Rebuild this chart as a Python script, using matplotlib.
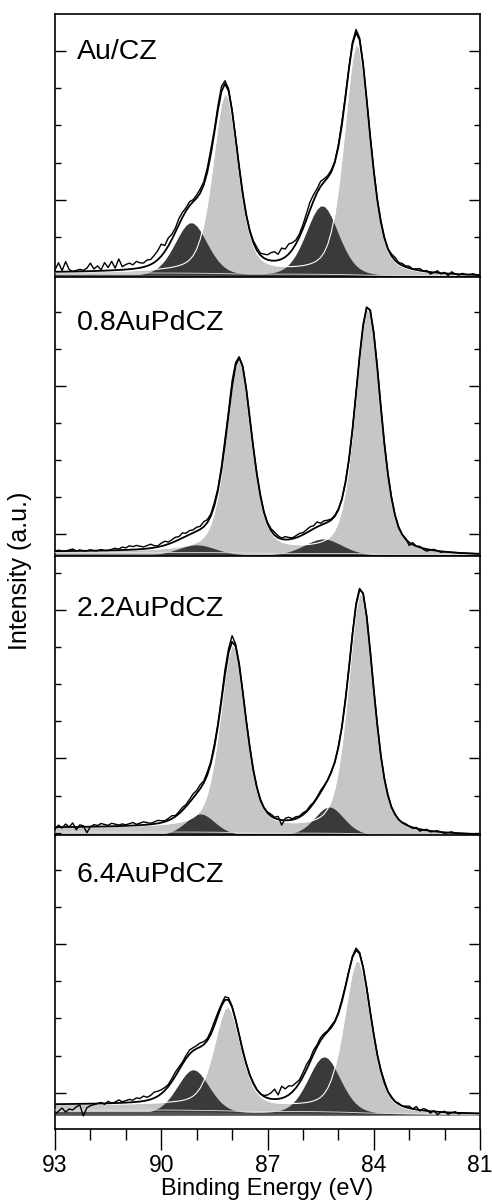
import numpy as np
import matplotlib
matplotlib.use('Agg')
import matplotlib.pyplot as plt
from matplotlib.ticker import FixedLocator

plt.rcParams['font.family'] = ['Liberation Sans', 'DejaVu Sans']

# Binding energy grid (eV), 93 -> 81 in 0.1 eV steps
be = np.round(np.arange(930, 809, -1) / 10.0, 1)

labels = ['Au/CZ', '0.8AuPdCZ', '2.2AuPdCZ', '6.4AuPdCZ']

# Fitted components (intensity in arbitrary units)
# Au0 doublet: 4f7/2 position, 4f5/2 position, heights, FWHM
au0_pos = [(84.47, 88.18), (84.16, 87.80), (84.36, 87.97), (84.45, 88.12)]
au0_height = [(232, 180), (246, 192), (240, 184), (152, 100)]
au0_fwhm = [0.85, 0.85, 0.85, 0.9]
# Au(delta+) doublet
aup_pos = [(85.46, 89.16), (85.43, 89.00), (85.26, 88.90), (85.40, 89.10)]
aup_height = [(71, 54), (17, 11), (29, 22), (58, 45)]
aup_fwhm = [1.1, 1.3, 1.0, 1.1]
# Shirley background level at 93 eV, and height of the dark baseline band
bg_high = [4, 4, 8, 10]
band_high = [2.5, 2.0, 2.5, 3.5]

# Measured spectra = fit envelope + residuals (93.0 -> 81.0 eV)
resid_1 = [2, 9, 1, 10, 2, 0, 1, 2, 1, 3,
           8, 2, 5, 1, 8, 3, 9, 2, 11, 3,
           5, 6, 4, 7, 5, 4, 6, 5, 7, 9,
           12, 6, 8, 5, 4, 6, 5, 3, 4, 2,
           3, 4, 3, 4, 5, 3, 4, 5, 3, 2,
           1, 0, 0, -1, 0, 1, 2, 3, 2, 4,
           5, 8, 9, 6, 11, 8, 10, 7, 4, 3,
           4, 6, 8, 6, 4, 5, 3, 2, 2, 1,
           2, 3, 2, 1, 2, 3, 2, 1, 0, 1,
           2, 1, 2, 1, 0, 2, 3, 1, 2, 1,
           2, 0, 1, 2, 0, 1, -2, 0, 2, -1,
           1, -2, 2, 0, -1, 1, 0, 0, 1, 0,
           0]
resid_2 = [0, 1, 0, 0, 1, 2, 0, 1, 0, 0,
           1, 0, 0, 1, 0, 0, 1, 2, 1, 3,
           2, 4, 3, 4, 3, 2, 3, 4, 2, 1,
           3, 4, 2, 3, 4, 3, 5, 3, 4, 3,
           4, 3, 5, 3, 2, 3, 2, 3, 5, 4,
           6, 3, 1, 0, 0, -1, 0, 0, 1, 0,
           1, 2, 3, 2, 1, 3, 2, 1, 2, 3,
           2, 3, 4, 3, 5, 2, 3, 2, 1, 1,
           1, 0, 1, 0, 0, 1, 0, -1, 0, 0,
           0, 1, 0, -1, 0, 1, 0, -1, 0, 1,
           -3, 2, 0, 1, -1, -2, 0, 1, 0, -1,
           0, 0, 0, 0, 0, 0, 0, 0, 0, 0,
           0]
resid_3 = [-2, 2, -1, 3, 0, 4, -3, 2, 1, -6,
           0, 2, 1, 3, 2, 1, 3, 2, 1, 2,
           1, 2, 3, 1, 2, 3, 2, 1, 2, 3,
           2, 1, 2, 3, 1, 2, 3, 2, 3, 4,
           3, 4, 2, 3, 2, 3, 2, 3, 5, 4,
           6, 2, 1, 0, 0, 1, 0, 0, -1, 0,
           1, 2, 1, 3, -5, 2, 3, 1, 2, 1,
           2, 1, 2, 1, 1, 2, 1, 0, 1, 0,
           1, 0, 1, 0, 1, 2, 1, 0, 0, 0,
           0, 1, 0, 0, 1, 0, 1, 0, 0, 1,
           0, -1, 1, -2, 0, 1, -1, 0, 1, 0,
           -1, 0, 1, 0, 0, 0, 0, 0, 0, 0,
           0]
resid_4 = [-10, -7, -4, -8, -5, -6, -3, -1, -12, -4,
           -2, -1, 0, 1, -1, 2, 0, 1, 3, 1,
           2, 3, 2, 4, 3, 5, 3, 4, 6, 5,
           4, 3, 2, 3, 4, 3, 2, 3, 4, 3,
           3, 4, 3, 2, 3, 4, 3, 2, 3, 2,
           1, 0, 0, -1, 0, 0, 1, 0, 0, 1,
           3, 6, 10, 4, 12, 8, 9, 6, 5, 3,
           4, 5, 3, 4, 2, 3, 2, 1, 2, 1,
           1, 2, 1, 0, 1, 2, 1, 0, 1, 0,
           1, 0, 1, 2, 0, 1, 0, 1, 0, 1,
           2, 0, 3, -1, 2, 1, -2, 1, -3, 0,
           1, -2, 0, 1, -1, 0, 0, 0, 0, 0,
           0]
residuals = [resid_1, resid_2, resid_3, resid_4]

# layout of the four stacked panels (pixel rows in the 492x1204 figure)
W, H = 492, 1204
panel_rows = [(14, 277), (277, 556), (556, 835), (835, 1129)]
baselines = [277, 556, 836, 1115]
tick_rows = [[51, 88, 125, 163, 200, 237],
             [312, 349, 386, 423, 460, 497, 534],
             [573, 610, 647, 684, 721, 758, 796, 833],
             [870, 907, 944, 981, 1018, 1056, 1093]]
major_rows = [[51, 200], [386, 534], [610, 758], [944, 1093]]
label_rows = [52, 323, 609, 875]

LIGHT = '#c6c6c6'
DARK = '#3a3a3a'


def pseudo_voigt(x, center, height, fwhm, mix):
    u = (x - center) / (fwhm / 2.0)
    return height * ((1 - mix) * np.exp(-np.log(2) * u ** 2) + mix / (1 + u ** 2))


fig = plt.figure(figsize=(W / 100, H / 100), dpi=100)

for i in range(4):
    top, bot = panel_rows[i]
    base = baselines[i]
    ax = fig.add_axes([55 / W, 1 - bot / H, 425 / W, (bot - top) / H])

    # components
    au0 = (pseudo_voigt(be, au0_pos[i][0], au0_height[i][0], au0_fwhm[i], 0.4)
           + pseudo_voigt(be, au0_pos[i][1], au0_height[i][1], au0_fwhm[i], 0.4))
    aup = (pseudo_voigt(be, aup_pos[i][0], aup_height[i][0], aup_fwhm[i], 0.3)
           + pseudo_voigt(be, aup_pos[i][1], aup_height[i][1], aup_fwhm[i], 0.3))

    # Shirley-type background, rising towards high binding energy
    cum = np.cumsum((au0 + aup)[::-1])[::-1]
    bg = bg_high[i] * cum / cum.max()
    band = band_high[i] * cum / cum.max()

    light = bg + au0
    envelope = light + aup
    data = envelope + np.array(residuals[i])

    ax.fill_between(be, 0, light, color=LIGHT, lw=0, zorder=1)
    ax.fill_between(be, 0, aup, color=DARK, lw=0, zorder=2)
    ax.fill_between(be, 0, band, color='#555555', lw=0, zorder=3)
    ax.plot(be, light, color='white', lw=0.8, zorder=4)
    ax.plot(be, band + 1.5, color='#e0e0e0', lw=0.6, zorder=4)
    ax.plot(be, envelope, color='black', lw=1.3, zorder=5)
    ax.plot(be, data, color='black', lw=1.0, zorder=6)

    ax.set_xlim(93, 81)
    ax.set_ylim(base - bot, base - top)

    # y ticks: no labels, pointing inwards on both sides
    ticks = [base - t for t in tick_rows[i]]
    majors = [base - t for t in major_rows[i]]
    ax.yaxis.set_major_locator(FixedLocator(majors))
    ax.yaxis.set_minor_locator(FixedLocator([t for t in ticks if t not in majors]))
    ax.tick_params(axis='y', which='both', direction='in', left=True, right=True,
                   labelleft=False, width=1.0)
    ax.tick_params(axis='y', which='major', length=8)
    ax.tick_params(axis='y', which='minor', length=4.3)

    for s in ax.spines.values():
        s.set_linewidth(1.2)

    if i < 3:
        ax.set_xticks([])
    else:
        ax.set_xticks([93, 90, 87, 84, 81])
        ax.xaxis.set_minor_locator(FixedLocator(np.arange(81, 94, 1)))
        ax.tick_params(axis='x', which='major', direction='out', length=15,
                       width=1.0, labelsize=16.5, pad=3)
        ax.tick_params(axis='x', which='minor', direction='out', length=8, width=1.0)
        ax.set_xlabel('Binding Energy (eV)', fontsize=17, labelpad=1)

    fig.text(77 / W, 1 - label_rows[i] / H, labels[i], fontsize=20.5,
             va='center', ha='left')

fig.text(20 / W, 1 - 571 / H, 'Intensity (a.u.)', rotation=90, fontsize=18,
         va='center', ha='center')

fig.savefig('out.png', dpi=100)
